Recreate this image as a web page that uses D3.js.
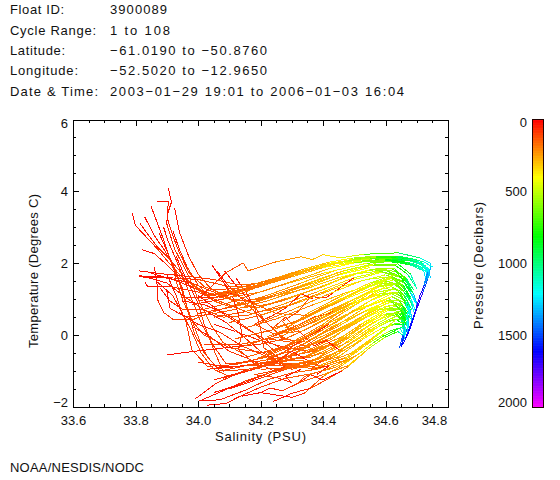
<!DOCTYPE html>
<html><head><meta charset="utf-8">
<script src="https://cdn.jsdelivr.net/npm/d3@7"></script>
<style>html,body{margin:0;padding:0;background:#fff}svg{display:block}
text{font-family:"Liberation Sans",sans-serif;font-size:13px;font-weight:400;fill:#111}</style></head>
<body><div id="c"></div>
<script>
// Header
const headerLabels = ["Float ID:","Cycle Range:","Latitude:","Longitude:","Date & Time:"];
const headerValues = ["3900089","1 to 108","−61.0190 to −50.8760","−52.5020 to −12.9650","2003−01−29 19:01 to 2006−01−03 16:04"];
const xTicks = [33.6,33.8,34.0,34.2,34.4,34.6,34.8];
const yTicks = [-2,0,2,4,6];
const pressureTicks = [0,500,1000,1500,2000];
// Each point is [salinity, temperature, pressure]
const steepProfiles = [
[[33.905,4.1,10],[33.915,3.7,25],[33.9,3.3,40],[33.92,2.75,60],[33.94,2.3,80],[33.97,1.75,100],[34.02,1.35,130],[34.08,1.15,160],[34.15,1.25,190],[34.25,1.5,220],[34.36,1.85,280],[34.46,2.05,390],[34.55,2.15,560],[34.62,2.15,780],[34.68,2.1,960],[34.725,1.9,1150],[34.735,1.6,1350]],
[[33.87,3.72,10],[33.905,3.72,25],[33.9,3.1,50],[33.925,2.4,80],[33.97,1.65,110],[34.0,1.0,140],[34.04,0.3,130],[34.08,-0.2,110],[34.16,-0.6,120],[34.28,-0.3,170],[34.4,0.3,230],[34.5,0.95,300],[34.58,1.4,400],[34.63,1.55,520],[34.66,1.35,660],[34.68,1.05,950],[34.695,0.7,1450]],
[[33.85,3.58,10],[33.885,2.77,40],[33.915,2.0,70],[33.94,1.47,90],[33.96,0.9,110],[33.99,0.2,100],[34.02,-0.5,90],[34.06,-0.9,90],[34.2,-0.65,130],[34.33,-0.2,180],[34.45,0.4,260],[34.55,0.95,340],[34.62,1.2,480],[34.655,1.05,620],[34.675,0.8,1000],[34.685,0.5,1450]],
[[33.925,3.55,10],[33.94,2.88,30],[33.97,2.2,60],[34.0,1.7,90],[34.04,1.3,120],[34.1,1.0,150],[34.18,0.75,160],[34.27,0.95,190],[34.38,1.3,260],[34.48,1.65,350],[34.57,1.85,470],[34.63,1.85,640],[34.665,1.55,800],[34.69,1.15,1150],[34.7,0.85,1500]],
[[33.79,3.39,10],[33.80,3.05,20],[33.84,2.68,40],[33.87,2.4,60],[33.905,2.03,80],[33.95,1.6,110],[34.02,1.2,140],[34.1,1.05,170],[34.2,1.2,200],[34.32,1.55,260],[34.42,1.85,330],[34.52,2.05,470],[34.6,2.05,710],[34.67,2.0,920],[34.72,1.85,1130],[34.73,1.55,1350]],
[[33.83,3.28,10],[33.86,2.77,30],[33.89,2.4,50],[33.92,1.95,70],[33.93,1.5,90],[33.95,1.0,110],[33.98,0.4,110],[34.02,0.0,100],[34.1,-0.35,100],[34.22,-0.5,120],[34.34,-0.1,180],[34.46,0.6,270],[34.56,1.15,350],[34.62,1.45,490],[34.655,1.25,640],[34.68,0.95,1000],[34.695,0.55,1500]],
[[33.815,3.1,10],[33.84,2.8,30],[33.87,2.45,50],[33.9,2.2,70],[33.93,1.9,90],[33.98,1.4,120],[34.05,1.0,150],[34.13,0.75,170],[34.22,0.85,190],[34.33,1.15,250],[34.44,1.5,320],[34.54,1.8,440],[34.62,1.85,600],[34.665,1.6,790],[34.69,1.25,1150]],
[[33.82,2.38,10],[33.86,2.27,30],[33.89,2.04,50],[33.925,1.75,70],[33.97,1.4,100],[34.03,1.1,130],[34.1,1.15,165],[34.2,1.35,190],[34.3,1.65,240],[34.4,1.95,310],[34.5,2.12,430],[34.58,2.2,670],[34.65,2.12,870],[34.7,2.05,1050],[34.735,1.8,1250]],
[[33.89,3.0,15],[33.905,2.6,40],[33.93,2.1,65],[33.955,1.55,85],[33.98,1.0,105],[34.01,0.35,100],[34.05,-0.3,85],[34.09,-0.8,85],[34.2,-0.72,120],[34.34,-0.5,180],[34.46,-0.05,270],[34.56,0.5,360]],
[[33.875,2.85,15],[33.9,2.35,45],[33.925,1.85,70],[33.95,1.3,90],[33.97,0.6,95],[33.99,0.0,90],[34.03,-0.6,90],[34.07,-1.0,90],[34.17,-0.82,110],[34.3,-0.62,165]],
[[33.92,2.9,15],[33.94,2.4,45],[33.965,1.9,75],[34.0,1.4,105],[34.05,0.95,135],[34.1,0.8,150],[34.2,0.95,185],[34.32,1.3,250],[34.44,1.65,340],[34.55,1.88,480]]
];
const flatProfiles = [
[[33.81,1.79,10],[33.87,1.72,30],[33.95,1.65,60],[34.05,1.55,100],[34.13,1.4,150],[34.22,1.45,190],[34.32,1.72,250],[34.42,1.98,330],[34.52,2.12,480],[34.6,2.2,720],[34.67,2.15,910],[34.72,2.0,1100],[34.735,1.7,1300]],
[[33.81,1.62,10],[33.9,1.6,40],[34.0,1.55,80],[34.1,1.35,150],[34.18,1.35,180],[34.28,1.6,230],[34.38,1.9,300],[34.48,2.08,410],[34.56,2.15,620],[34.64,2.2,840],[34.7,2.1,1050],[34.73,1.85,1250]],
[[33.81,1.65,10],[33.88,1.62,40],[33.98,1.45,80],[34.05,1.2,120],[34.12,0.95,140],[34.2,1.0,170],[34.32,1.35,240],[34.45,1.75,340],[34.55,1.95,500],[34.63,1.95,720],[34.67,1.7,850],[34.7,1.3,1200]],
[[33.83,1.48,10],[33.84,1.34,20],[33.905,1.36,50],[34.0,1.2,90],[34.08,0.9,130],[34.17,0.6,150],[34.28,0.8,190],[34.4,1.2,270],[34.5,1.55,370],[34.59,1.75,500],[34.65,1.6,680],[34.68,1.2,980],[34.7,0.9,1450]],
[[33.86,1.9,10],[33.87,1.37,30],[33.87,1.0,50],[33.89,0.63,70],[33.92,0.44,90],[33.98,0.42,110],[34.05,0.65,140],[34.12,0.85,170],[34.22,1.1,200],[34.33,1.45,260],[34.44,1.8,340],[34.54,2.0,500],[34.62,2.05,760],[34.68,1.95,950],[34.725,1.78,1200]],
[[33.87,1.48,20],[33.92,1.09,50],[33.96,0.44,80],[33.98,-0.4,90],[34.03,-0.87,90],[34.12,-0.82,100],[34.2,-0.65,130],[34.3,-0.45,170],[34.42,-0.1,230],[34.52,0.4,320],[34.6,0.8,430],[34.645,0.85,600],[34.665,0.55,850],[34.675,0.2,1450]],
[[33.9,1.7,15],[33.93,1.1,40],[33.95,0.6,70],[33.98,0.1,85],[34.01,-0.5,95],[34.05,-0.95,95],[34.1,-1.15,95],[34.2,-0.9,120],[34.3,-0.55,170],[34.38,-0.1,210],[34.48,0.3,280],[34.57,0.7,370],[34.63,0.85,520],[34.66,0.65,780],[34.67,0.2,1350],[34.655,-0.2,1620]],
[[33.93,2.2,10],[33.96,1.6,40],[34.0,0.9,70],[34.02,0.3,90],[34.05,-0.4,100],[34.08,-1.0,100],[34.16,-0.95,110],[34.25,-0.8,130],[34.36,-0.55,190],[34.48,-0.05,280],[34.56,0.45,360],[34.62,0.75,500],[34.655,0.55,760],[34.665,0.1,1450]],
[[33.85,1.72,10],[33.92,1.55,35],[33.99,1.3,75],[34.07,1.05,120],[34.15,0.95,155],[34.25,1.1,205],[34.36,1.45,280],[34.47,1.8,380],[34.57,2.0,600]],
[[33.84,1.6,10],[33.9,1.45,35],[33.96,1.05,70],[34.02,0.7,100],[34.08,0.5,125],[34.16,0.55,160],[34.26,0.82,200],[34.38,1.2,275],[34.5,1.6,390],[34.6,1.8,540],[34.66,1.6,760]],
[[33.88,1.3,20],[33.91,0.95,45],[33.95,0.72,70],[34.02,0.72,105],[34.1,0.9,150],[34.18,1.15,185],[34.28,1.42,230],[34.4,1.72,320],[34.5,1.92,440]]
];
const hookProfiles = [
[[34.045,1.95,10],[34.075,1.56,40],[34.1,1.2,90],[34.16,0.95,130],[34.25,0.6,160],[34.35,0.55,210],[34.46,1.0,300],[34.56,1.45,400],[34.62,1.6,530],[34.66,1.45,700],[34.685,1.1,1100]],
[[34.085,1.79,10],[34.12,1.4,40],[34.17,0.9,90],[34.22,0.35,120],[34.27,-0.1,130],[34.35,-0.2,170],[34.45,0.3,250],[34.55,0.85,340],[34.62,1.15,480],[34.655,1.0,640],[34.68,0.7,1100],[34.685,0.35,1500]],
[[34.06,1.8,10],[34.09,1.45,30],[34.13,1.1,70],[34.2,0.5,100],[34.27,-0.05,110],[34.37,-0.4,150],[34.48,-0.1,270],[34.57,0.4,370],[34.63,0.6,560],[34.655,0.4,820],[34.66,0,1550]],
[[34.12,1.6,15],[34.15,1.25,40],[34.18,0.8,80],[34.2,0.2,95],[34.21,-0.35,105],[34.27,-0.7,120],[34.36,-0.62,185],[34.46,-0.2,270]]
];
const upperProfiles = [
[[34.0,1.0,40],[34.09,1.74,90],[34.145,2.01,140],[34.16,1.79,150],[34.25,2.04,200],[34.33,2.18,260],[34.365,2.1,280],[34.4,2.24,320],[34.455,2.15,390],[34.53,2.25,540],[34.64,2.29,860],[34.71,2.15,1100],[34.745,2.0,1220],[34.74,1.7,1340]],
[[33.95,1.05,30],[34.05,1.05,110],[34.12,1.15,165],[34.2,1.42,190],[34.28,1.65,225],[34.36,1.85,280],[34.44,2.02,360],[34.53,2.12,500],[34.6,2.15,730],[34.66,2.1,890],[34.71,2.0,1080],[34.74,1.8,1260],[34.73,1.5,1400]],
[[33.98,0.85,30],[34.08,1.0,130],[34.15,1.2,170],[34.23,1.47,200],[34.31,1.7,240],[34.39,1.92,310],[34.47,2.05,400],[34.56,2.12,610],[34.63,2.1,830],[34.69,1.98,1030],[34.735,1.75,1280],[34.72,1.3,1500]],
[[34.02,1.1,60],[34.1,1.2,140],[34.17,1.32,175],[34.25,1.55,210],[34.33,1.78,265],[34.41,1.97,340],[34.5,2.08,450],[34.58,2.14,680],[34.65,2.05,870],[34.7,1.95,1060],[34.74,1.7,1300]],
[[34.0,0.95,50],[34.1,1.12,140],[34.2,1.36,190],[34.3,1.62,235],[34.4,1.88,320],[34.5,2.02,450],[34.6,2.08,730],[34.68,2.0,980],[34.73,1.85,1200],[34.745,1.6,1380]],
[[34.03,1.25,80],[34.12,1.3,150],[34.22,1.5,200],[34.32,1.75,250],[34.42,2.0,350],[34.52,2.1,490],[34.6,2.18,740],[34.67,2.12,930],[34.72,2.05,1120],[34.75,1.9,1240]],
[[34.08,1.2,130],[34.18,1.42,185],[34.26,1.62,215],[34.34,1.84,270],[34.42,2.03,350],[34.49,2.14,440],[34.57,2.2,650],[34.63,2.18,820],[34.68,2.12,980],[34.72,1.98,1150],[34.74,1.75,1320]],
[[34.06,1.15,120],[34.14,1.28,170],[34.24,1.52,205],[34.32,1.7,255],[34.4,1.93,325],[34.48,2.08,420],[34.57,2.16,640],[34.64,2.14,840],[34.7,2.04,1060],[34.74,1.85,1250]],
[[34.1,1.18,140],[34.18,1.36,180],[34.27,1.6,225],[34.36,1.82,290],[34.44,1.98,370],[34.52,2.06,490],[34.6,2.1,720],[34.66,2.04,900]],
[[34.12,1.22,150],[34.2,1.4,190],[34.29,1.66,235],[34.38,1.88,305],[34.46,2.03,390],[34.55,2.12,560],[34.62,2.12,790],[34.68,2.06,970],[34.73,1.92,1180]]
];
const middleProfiles = [
[[34.0,0.6,60],[34.12,0.8,150],[34.25,1.1,210],[34.35,1.3,270],[34.45,1.6,350],[34.55,1.82,460],[34.63,1.78,660],[34.665,1.5,800],[34.69,1.15,1150],[34.7,0.9,1520]],
[[34.05,0.5,80],[34.15,0.65,165],[34.28,1.0,215],[34.4,1.35,300],[34.5,1.7,400],[34.58,1.78,520],[34.645,1.65,690],[34.675,1.3,950],[34.695,0.9,1550]],
[[34.1,0.35,100],[34.2,0.55,170],[34.32,0.9,230],[34.44,1.3,320],[34.54,1.55,420],[34.61,1.62,550],[34.655,1.4,680],[34.68,1.05,1050]],
[[34.15,0.2,120],[34.25,0.45,170],[34.37,0.85,240],[34.48,1.2,340],[34.58,1.45,450],[34.64,1.4,590],[34.665,1.15,780],[34.69,0.8,1400]],
[[34.12,-0.1,110],[34.24,0.15,160],[34.36,0.55,220],[34.47,1.0,320],[34.57,1.35,420],[34.63,1.45,540],[34.66,1.2,680],[34.685,0.85,1300]],
[[34.15,-0.3,110],[34.27,0.05,170],[34.39,0.5,235],[34.5,1.0,340],[34.59,1.3,450],[34.645,1.25,600],[34.67,0.95,880],[34.68,0.55,1520]],
[[34.02,-0.25,70],[34.14,-0.25,110],[34.26,-0.05,160],[34.38,0.4,230],[34.49,0.9,330],[34.58,1.15,430],[34.64,1.15,570],[34.665,0.9,820],[34.68,0.5,1500]],
[[34.2,0.35,140],[34.3,0.7,200],[34.42,1.15,290],[34.52,1.5,390],[34.6,1.68,520],[34.655,1.5,690],[34.685,1.2,1050]],
[[34.22,-0.05,150],[34.34,0.35,210],[34.46,0.85,300],[34.55,1.2,380],[34.62,1.35,500],[34.66,1.1,700],[34.68,0.75,1200]],
[[34.29,0.24,170],[34.41,0.8,270],[34.52,1.26,380],[34.62,1.63,540],[34.66,1.45,720]],
[[34.28,0.2,165],[34.4,0.78,265],[34.51,1.22,370],[34.6,1.5,490],[34.65,1.4,640],[34.68,1.0,1100]],
[[34.3,0.3,175],[34.42,0.84,280],[34.53,1.3,390],[34.62,1.58,530],[34.66,1.3,700]],
[[34.31,0.34,180],[34.35,0.6,225],[34.45,1.05,310],[34.55,1.45,420],[34.63,1.68,590]]
];
const bandProfiles = [
[[34.2,-0.62,130],[34.32,-0.18,180],[34.41,0.3,250],[34.51,0.7,320],[34.62,1.07,470],[34.66,0.9,680],[34.68,0.6,1200]],
[[34.19,-0.65,125],[34.31,-0.22,175],[34.4,0.26,245],[34.5,0.66,310],[34.6,0.98,430],[34.655,0.85,640]],
[[34.21,-0.58,135],[34.33,-0.14,185],[34.42,0.34,255],[34.52,0.76,330],[34.61,1.02,460],[34.655,0.75,680],[34.675,0.4,1300]],
[[34.22,-0.66,135],[34.34,-0.24,190],[34.43,0.24,260],[34.53,0.64,340],[34.62,0.92,500],[34.66,0.65,780]],
[[34.2,-0.77,115],[34.3,-0.82,150],[34.38,-0.9,190],[34.48,-0.6,280],[34.56,-0.1,370],[34.62,0.3,520],[34.655,0.35,800]],
[[34.18,-0.8,110],[34.3,-0.78,150],[34.39,-0.84,195],[34.49,-0.5,290],[34.57,0.0,380],[34.63,0.4,560]],
[[34.16,-0.85,105],[34.28,-0.85,140],[34.37,-0.93,185],[34.47,-0.65,270],[34.55,-0.15,360]],
[[34.27,0.05,150],[34.37,0.35,215],[34.48,0.82,310],[34.57,1.1,400],[34.63,1.3,530],[34.665,1.05,760]],
[[34.34,-0.9,170],[34.42,-0.6,235],[34.5,-0.15,310],[34.58,0.3,410],[34.64,0.55,600],[34.66,0.4,850]]
];
const zigzagProfiles = [
[[34.5,1.6,20],[34.46,1.35,40],[34.41,1.04,70],[34.36,1.07,90],[34.32,0.65,110],[34.27,0.38,130],[34.3,0.1,150],[34.4,0.5,220],[34.5,1.0,320],[34.58,1.35,430],[34.63,1.4,550],[34.66,1.2,700]],
[[34.47,0.8,20],[34.42,0.6,50],[34.37,0.5,80],[34.3,0.2,110],[34.22,-0.1,120],[34.3,-0.2,150],[34.4,0.15,220],[34.5,0.7,320],[34.58,1.1,430],[34.64,1.2,580],[34.665,0.95,800],[34.675,0.6,1400]],
[[34.42,0.3,20],[34.38,0.1,50],[34.33,-0.15,80],[34.27,-0.5,100],[34.22,-0.7,120],[34.32,-0.55,160],[34.43,-0.1,240],[34.52,0.5,320],[34.6,0.95,430],[34.645,0.95,600],[34.67,0.65,900],[34.67,0.2,1500]],
[[34.35,-0.7,20],[34.3,-0.45,50],[34.25,-0.75,90],[34.28,-0.9,110],[34.37,-0.7,190],[34.46,-0.2,270],[34.54,0.35,350],[34.61,0.7,480],[34.65,0.65,680],[34.665,0.3,1000]],
[[34.38,-1.1,15],[34.42,-0.85,40],[34.36,-0.95,70],[34.4,-0.7,130],[34.46,-0.4,240],[34.54,0.05,340],[34.61,0.4,500],[34.65,0.45,700],[34.66,0.15,1300]],
[[34.45,-0.4,15],[34.41,-0.15,35],[34.37,-0.3,60],[34.33,0.05,85],[34.28,0.5,105],[34.24,0.2,125],[34.34,0.45,200],[34.45,0.95,300],[34.55,1.35,400]],
[[34.33,-0.95,15],[34.28,-1.15,35],[34.3,-1.32,55],[34.25,-1.18,80],[34.18,-1.1,95],[34.27,-0.95,130],[34.38,-0.75,190],[34.47,-0.35,280],[34.55,0.15,360]],
[[34.37,1.0,15],[34.33,1.15,35],[34.28,0.75,60],[34.24,0.55,85],[34.18,0.3,105],[34.24,0.05,130],[34.33,0.1,185],[34.44,0.6,285],[34.54,1.1,380]],
[[34.46,-1.0,15],[34.4,-1.25,35],[34.36,-1.1,60],[34.32,-1.35,85],[34.34,-1.15,130],[34.41,-0.95,190],[34.5,-0.6,300]]
];
const lowerProfiles = [
[[34.0,-0.75,40],[34.1,-0.9,90],[34.2,-0.8,110],[34.3,-0.7,160],[34.36,-0.73,190],[34.45,-0.35,260],[34.53,0.15,340],[34.6,0.55,450],[34.64,0.65,640],[34.66,0.4,850],[34.665,0,1500]],
[[34.03,-0.95,30],[34.12,-0.88,100],[34.22,-0.75,120],[34.32,-0.65,170],[34.4,-0.5,220],[34.48,-0.2,290],[34.56,0.25,380],[34.62,0.55,540],[34.65,0.5,720],[34.66,0.2,1250],[34.655,-0.1,1580]],
[[34.05,-1.25,20],[34.13,-1.05,90],[34.22,-0.85,120],[34.3,-0.55,165],[34.38,-0.2,215],[34.46,0.15,270],[34.54,0.5,350],[34.61,0.75,480],[34.65,0.7,680],[34.665,0.4,950]],
[[33.99,-1.78,10],[34.06,-1.33,40],[34.155,-0.96,90],[34.24,-0.77,130],[34.36,-0.12,210],[34.45,0.25,270],[34.54,0.7,350],[34.61,0.95,470],[34.65,0.85,650],[34.675,0.5,1000],[34.67,0.1,1560]],
[[34.1,-1.5,15],[34.2,-1.2,70],[34.28,-0.95,120],[34.37,-0.8,180],[34.45,-0.6,250],[34.53,-0.1,330],[34.59,0.2,430],[34.63,0.3,680],[34.66,0.3,1000],[34.66,-0.1,1600]],
[[34.005,-1.83,10],[34.07,-1.8,30],[34.155,-1.52,60],[34.22,-1.25,90],[34.3,-1.05,130],[34.38,-0.95,180],[34.47,-0.7,260],[34.55,-0.2,360],[34.61,0.1,620],[34.645,0.2,830],[34.66,0.0,1450],[34.65,-0.3,1680]],
[[34.14,-1.7,10],[34.2,-1.6,25],[34.23,-1.47,45],[34.27,-1.55,70],[34.33,-1.3,110],[34.4,-1.1,170],[34.48,-0.85,270],[34.55,-0.35,380],[34.6,-0.05,640],[34.64,0.1,820],[34.655,0,1300],[34.645,-0.35,1680]],
[[34.2,-1.6,15],[34.3,-1.73,35],[34.34,-1.62,70],[34.4,-1.15,170],[34.46,-0.85,270],[34.52,-0.49,380],[34.56,-0.22,520],[34.59,-0.04,700],[34.63,0.12,820],[34.655,0.24,1000],[34.66,-0.05,1500]],
[[34.06,-0.9,25],[34.15,-0.85,95],[34.26,-0.72,130],[34.35,-0.58,190],[34.44,-0.2,250],[34.52,0.2,330],[34.6,0.6,450],[34.645,0.6,640],[34.665,0.3,950]],
[[34.08,-1.2,30],[34.18,-0.95,100],[34.25,-0.75,135],[34.33,-0.4,180],[34.42,0,240],[34.5,0.35,310],[34.58,0.7,420],[34.635,0.8,580],[34.665,0.55,880]],
[[34.03,-1.95,10],[34.09,-1.9,20],[34.13,-1.72,40],[34.2,-1.45,70],[34.28,-1.2,115],[34.36,-1.08,165],[34.44,-0.9,230],[34.51,-0.55,330]],
[[34.0,-1.85,10],[34.08,-1.55,30],[34.15,-1.28,70],[34.24,-1.02,115],[34.33,-0.85,165],[34.43,-0.62,235],[34.52,-0.15,330]],
[[34.05,-1.6,15],[34.13,-1.38,50],[34.2,-1.15,90],[34.28,-0.88,130],[34.36,-0.75,185],[34.46,-0.42,265]],
[[34.24,-1.85,15],[34.3,-1.62,30],[34.36,-1.48,70],[34.42,-1.2,150],[34.48,-0.88,260],[34.54,-0.42,370]]
];
const diagonalProfiles = [
[[33.9,-0.55,10],[33.98,-0.46,25],[34.11,-0.33,50],[34.2,-0.25,85],[34.28,-0.1,130],[34.38,0.3,200],[34.48,0.75,300],[34.58,1.2,430],[34.63,1.3,560],[34.665,1.05,780],[34.685,0.7,1350]],
[[33.94,0.63,20],[34.0,0.3,40],[34.07,0.08,60],[34.14,-0.3,80],[34.26,-0.74,110],[34.34,-0.6,170],[34.43,-0.25,240],[34.52,0.3,330],[34.6,0.7,440],[34.645,0.75,620],[34.665,0.45,880]],
[[34.0,1.1,25],[34.08,0.6,50],[34.16,0.15,75],[34.24,-0.25,100],[34.31,-0.55,125],[34.4,-0.4,205],[34.5,0.1,310],[34.58,0.55,420],[34.635,0.6,600],[34.66,0.3,880]],
[[33.95,0.95,20],[34.02,0.85,40],[34.1,0.55,70],[34.18,0.05,95],[34.24,-0.4,115],[34.34,-0.35,175],[34.45,0.15,260],[34.55,0.65,360],[34.62,0.95,500],[34.655,0.8,680],[34.68,0.45,1250]],
[[33.9,1.25,15],[33.91,0.75,40],[33.96,0.5,70],[34.04,0.58,120],[34.12,0.72,160],[34.22,0.95,200],[34.34,1.3,265],[34.46,1.72,360],[34.56,1.95,500],[34.64,1.98,730],[34.68,1.7,920],[34.7,1.3,1300]],
[[34.08,1.5,15],[34.11,1.1,35],[34.13,0.55,60],[34.14,0.05,80],[34.13,-0.4,95],[34.2,-0.95,105],[34.32,-0.9,160],[34.42,-0.65,235],[34.5,-0.25,310],[34.58,0.25,420],[34.63,0.45,620],[34.66,0.3,950],[34.66,-0.1,1550]],
[[33.98,0.25,30],[34.04,-0.05,50],[34.1,-0.45,70],[34.16,-0.65,85],[34.24,-0.98,100],[34.32,-0.78,150],[34.4,-0.62,210]],
[[34.05,0.3,25],[34.12,0.1,45],[34.2,-0.15,70],[34.28,-0.35,95],[34.36,-0.45,145],[34.44,-0.25,230],[34.52,0.25,320]],
[[34.02,0.7,20],[34.09,0.35,45],[34.16,-0.15,70],[34.2,-0.45,90],[34.3,-0.95,120],[34.4,-0.72,205]]
];
const tailProfiles = [
[[34.745,1.9,1250],[34.735,1.55,1400],[34.72,1.2,1580],[34.705,0.85,1750],[34.695,0.6,1650],[34.68,0.2,1620],[34.665,-0.1,1600],[34.65,-0.32,1650]],
[[34.735,1.75,1300],[34.725,1.4,1500],[34.71,1.1,1780],[34.7,0.8,1620],[34.685,0.4,1560],[34.67,0.05,1600],[34.66,-0.2,1680]]
];
const allGroups = [steepProfiles,flatProfiles,hookProfiles,diagonalProfiles,lowerProfiles,zigzagProfiles,bandProfiles,middleProfiles,upperProfiles,tailProfiles];

const width=560,height=480;
const svg=d3.select("#c").append("svg").attr("width",width).attr("height",height);
const x=d3.scaleLinear().domain([33.6,34.8]).range([73,448]);
const y=d3.scaleLinear().domain([-2,6]).range([407,119.5]);
const color=d3.scaleLinear().domain([0,400,810,1210,1610,2000])
  .range(["#ff0000","#ffff00","#00ff00","#00ffff","#0000ff","#ff00ff"]);
const pY=d3.scaleLinear().domain([0,2000]).range([119.5,407]);

function txt(s,px,py,len,anchor){
  const t=svg.append("text").attr("x",px).attr("y",py).text(s);
  if(anchor)t.attr("text-anchor",anchor);
  if(len)t.attr("textLength",len).attr("lengthAdjust","spacing");
  return t;
}
const labelLens=[54,86,55,68,88];
const valueLens=[57,60,157,157,294];
const rows=[13.5,34.5,55,75,95.5];
headerLabels.forEach((s,i)=>txt(s,10,rows[i],labelLens[i]));
headerValues.forEach((s,i)=>txt(s,110,rows[i],valueLens[i]));

// profiles
const seg=d3.line().x(d=>x(d[0])).y(d=>y(d[1]));
const plot=svg.append("g").attr("fill","none").attr("stroke-width",1).attr("shape-rendering","crispEdges");
allGroups.forEach(g=>g.forEach(p=>{
  d3.pairs(p).forEach(([a,b])=>{
    plot.append("path").attr("d",seg([a,b])).attr("stroke",color((a[2]+b[2])/2));
  });
}));

// axes
const xMinor=d3.range(0,25).map(i=>33.6+i*0.05);
const yMinor=d3.range(0,17).map(i=>-2+i*0.5);
function ax(gen,tr){const g=svg.append("g").attr("transform",tr).call(gen);g.select(".domain").attr("stroke","#000");g.selectAll("line").attr("stroke","#000");g.attr("shape-rendering","crispEdges");return g;}
const xb=ax(d3.axisBottom(x).tickValues(xTicks).tickSizeInner(-6).tickSizeOuter(0).tickPadding(9).tickFormat(d3.format(".1f")),"translate(0,407)");
ax(d3.axisBottom(x).tickValues(xMinor).tickSizeInner(-3).tickSizeOuter(0).tickFormat(""),"translate(0,407)");
ax(d3.axisTop(x).tickValues(xTicks).tickSizeInner(-6).tickSizeOuter(0).tickFormat(""),"translate(0,119.5)");
ax(d3.axisTop(x).tickValues(xMinor).tickSizeInner(-3).tickSizeOuter(0).tickFormat(""),"translate(0,119.5)");
const yl=ax(d3.axisLeft(y).tickValues(yTicks).tickSizeInner(-6).tickSizeOuter(0).tickPadding(5).tickFormat(d3.format("d")),"translate(73,0)");
ax(d3.axisLeft(y).tickValues(yMinor).tickSizeInner(-3).tickSizeOuter(0).tickFormat(""),"translate(73,0)");
ax(d3.axisRight(y).tickValues(yTicks).tickSizeInner(-6).tickSizeOuter(0).tickFormat(""),"translate(448,0)");
ax(d3.axisRight(y).tickValues(yMinor).tickSizeInner(-3).tickSizeOuter(0).tickFormat(""),"translate(448,0)");
xb.selectAll("text").attr("font-size",null).attr("font-family",null).attr("fill",null);
yl.selectAll("text").attr("font-size",null).attr("font-family",null).attr("fill",null);
xb.selectAll("text").filter(d=>d===34.8).attr("dx",-14);
yl.selectAll("text").filter(d=>d===-2).attr("dy","-0.07em");
yl.selectAll("text").filter(d=>d===6).attr("dy","0.65em");

txt("Salinity (PSU)",215,441,91);
svg.append("text").attr("transform","translate(38,348) rotate(-90)").attr("textLength",154).attr("lengthAdjust","spacing").text("Temperature (Degrees C)");
svg.append("text").attr("transform","translate(483,329) rotate(-90)").attr("textLength",127).attr("lengthAdjust","spacing").text("Pressure (Decibars)");
txt("NOAA/NESDIS/NODC",10,472,134);

// colorbar
const barStops=d3.range(0,2000,5);
svg.append("g").selectAll("rect").data(barStops).join("rect")
  .attr("x",532).attr("width",11).attr("y",d=>pY(d)).attr("height",d=>pY(d+5)-pY(d)+0.6)
  .attr("fill",d=>color(d));
svg.append("rect").attr("x",532).attr("y",119.5).attr("width",11).attr("height",pY(2000)-119.5)
  .attr("fill","none").attr("stroke","#200").attr("shape-rendering","crispEdges");
const barLabelY={0:127,500:196,1000:268,1500:340,2000:407};
pressureTicks.forEach(d=>txt(String(d),527,barLabelY[d],null,"end"));
</script></body></html>
